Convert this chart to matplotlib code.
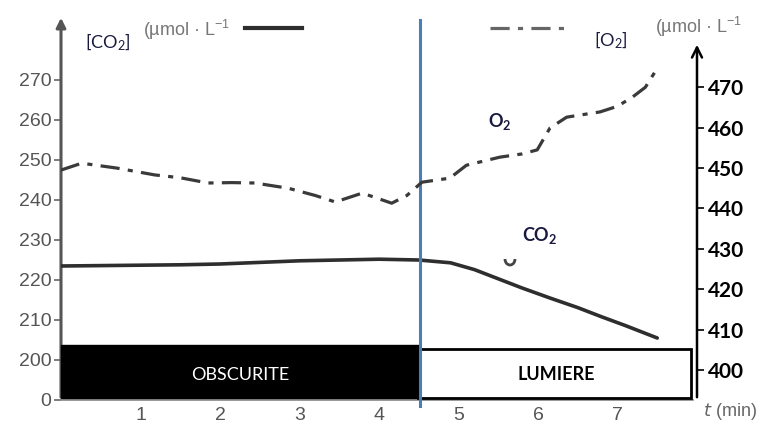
import numpy as np
import matplotlib.pyplot as plt
from matplotlib.patches import Rectangle, Arc
from matplotlib.lines import Line2D

# --- data ---
t_co2 = [0.0, 0.5, 1.0, 1.5, 2.0, 2.5, 3.0, 3.5, 4.0, 4.5, 4.9, 5.2, 5.5, 5.8, 6.15, 6.5, 6.8, 7.1, 7.5]
co2 = [223.5, 223.6, 223.7, 223.8, 224.0, 224.4, 224.8, 225.0, 225.2, 225.0, 224.3, 222.6, 220.3, 218.0, 215.5, 213.1, 210.8, 208.6, 205.5]

t_o2 = [0.0, 0.26, 0.7, 1.18, 1.5, 1.85, 2.15, 2.44, 2.86, 3.2, 3.45, 3.79, 4.16, 4.35, 4.54,
        4.89, 5.1, 5.52, 5.8, 5.99, 6.15, 6.36, 6.78, 7.0, 7.19, 7.35, 7.5]
o2 = [449.5, 451.2, 450.0, 448.3, 447.6, 446.3, 446.4, 446.3, 445.0, 443.2, 441.6, 443.8, 441.3, 443.2, 446.5,
      447.5, 450.7, 452.7, 453.5, 454.5, 459.9, 462.6, 463.9, 465.3, 467.6, 470.0, 474.7]

x_ticks = [1, 2, 3, 4, 5, 6, 7]
left_ticks = [190, 200, 210, 220, 230, 240, 250, 260, 270]
left_labels = ['0', '200', '210', '220', '230', '240', '250', '260', '270']
right_ticks = [400, 410, 420, 430, 440, 450, 460, 470]

t_switch = 4.52
sub2 = '$_\\mathregular{2}$'
dash_dot = (0, (6, 2.6, 1.6, 2.6))

plt.rcParams['mathtext.default'] = 'regular'

fig = plt.figure(figsize=(7.68, 4.25), dpi=100)
ax = fig.add_axes([61 / 768, 25 / 425, 636 / 768, 385 / 425])
ax2 = ax.twinx()

ax.set_xlim(0, 8)
ax.set_ylim(190, 286.25)
ax2.set_ylim(392.57, 487.9)

for a in (ax, ax2):
    for s in a.spines.values():
        s.set_visible(False)
ax.patch.set_visible(False)

# curves
ax.plot(t_co2, co2, color='#2e2e2e', lw=2.6, solid_capstyle='round', zorder=3)
ax2.plot(t_o2, o2, color='#3a3a3a', lw=2.3, linestyle=dash_dot, zorder=3)

# dark / light boxes
ax.add_patch(Rectangle((0, 190.5), t_switch - 0.02, 13.25, facecolor='black', edgecolor='black', zorder=4, clip_on=False))
ax.add_patch(Rectangle((t_switch - 0.03, 190.6), 7.95 - t_switch, 12.1, facecolor='white',
                       edgecolor='black', lw=2, zorder=4, clip_on=False))
ax.text(t_switch / 2, 196.3, 'OBSCURITE', color='white', fontsize=13, ha='center', va='center',
        family='Lato', zorder=5)
ax.text((t_switch + 7.95) / 2, 196.3, 'LUMIERE', color='black', fontsize=13, ha='center', va='center',
        family='Lato', fontweight='bold', zorder=5)

# switch line
ax.axvline(t_switch, ymin=-0.015, ymax=0.987, color='#4a7ebb', lw=2.2, clip_on=False, zorder=6)

# axes with arrows
ax.annotate('', xy=(0, 1.0), xytext=(0, 0), xycoords='axes fraction',
            arrowprops=dict(arrowstyle='-|>', color='#555555', lw=2.2, mutation_scale=14), zorder=2)
ax.plot([0, 7.95], [190, 190], color='#888888', lw=1.2, clip_on=False)
ax2.annotate('', xy=(1, 0.93), xytext=(1, 0), xycoords='axes fraction',
             arrowprops=dict(arrowstyle='->', color='black', lw=1.8, mutation_scale=18), zorder=2)

# ticks
ax.set_xticks(x_ticks)
ax.set_xticklabels([str(v) for v in x_ticks], color='#555555', fontsize=14, family='Liberation Sans')
ax.tick_params(axis='x', length=0, pad=5)
ax.set_yticks(left_ticks)
ax.set_yticklabels(left_labels, color='#555555', fontsize=14, family='Liberation Sans')
ax.tick_params(axis='y', length=5, width=1.2, color='#666666', pad=2)
ax2.set_yticks(right_ticks)
ax2.set_yticklabels([str(v) for v in right_ticks], fontsize=15, fontweight='bold', family='Lato')
ax2.tick_params(axis='y', length=5, width=1.2, color='black', pad=3)

# header labels and legend samples
fig.text(85 / 768, 1 - 42 / 425, '[CO' + sub2 + ']', fontsize=13, color='#1a1a40', family='Lato', va='center')
fig.text(143 / 768, 1 - 30 / 425, '(\u00b5mol \u00b7 L$^{-1}$', fontsize=13, color='#777777',
         family='Liberation Sans', va='center')
fig.add_artist(Line2D([245 / 768, 302 / 768], [1 - 28 / 425, 1 - 28 / 425], color='#2e2e2e', lw=3))
fig.add_artist(Line2D([490 / 768, 570 / 768], [1 - 28 / 425, 1 - 28 / 425], color='#666666', lw=2.3,
                      linestyle=dash_dot))
fig.text(594 / 768, 1 - 40 / 425, '[O' + sub2 + ']', fontsize=13, color='#1a1a40', family='Lato', va='center')
fig.text(655 / 768, 1 - 27 / 425, '(\u00b5mol \u00b7 L$^{-1}$', fontsize=13, color='#777777',
         family='Liberation Sans', va='center')
fig.text(488 / 768, 1 - 122 / 425, 'O' + sub2, fontsize=13, color='#1a1a40', family='Lato',
         fontweight='bold', va='center')
fig.text(522 / 768, 1 - 235 / 425, 'CO' + sub2, fontsize=13, color='#1a1a40', family='Lato',
         fontweight='bold', va='center')
fig.add_artist(Arc((510 / 768, 1 - 259 / 425), 10 / 768, 12 / 425, theta1=180, theta2=360,
                   color='#444444', lw=2, transform=fig.transFigure))
fig.text(703 / 768, 1 - 412 / 425, '$\\mathit{t}$ (min)', fontsize=13, color='#666666', family='Liberation Sans',
         va='center')

fig.savefig('out.png', dpi=100)
